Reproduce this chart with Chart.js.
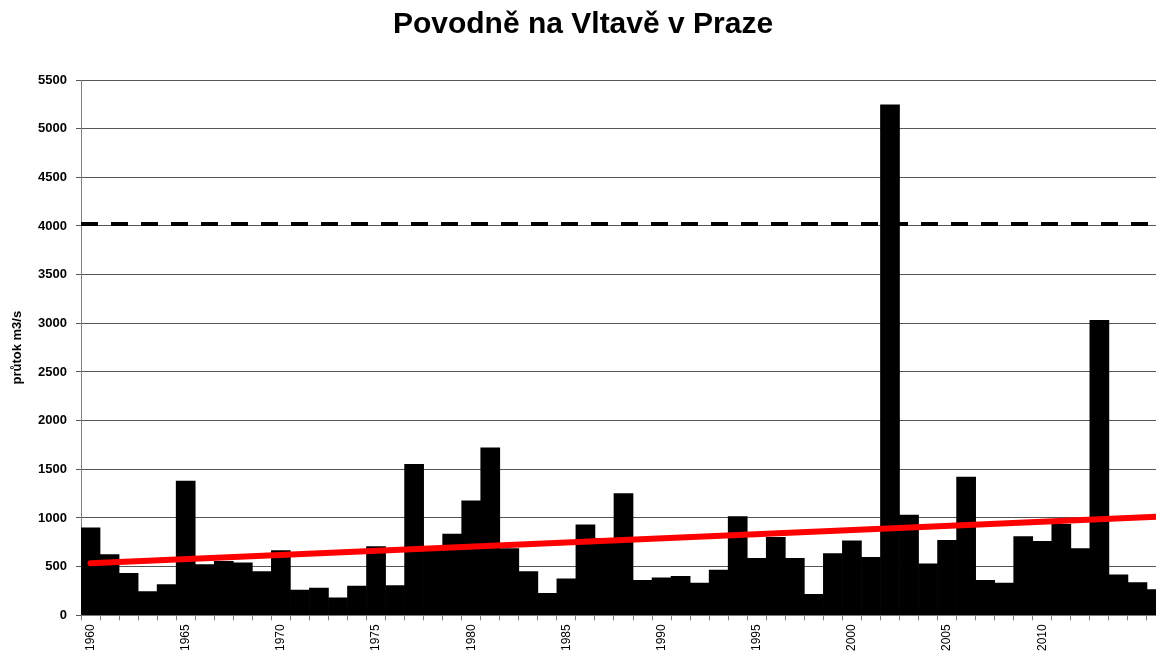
<!DOCTYPE html>
<html>
<head>
<meta charset="utf-8">
<title>Povodně na Vltavě v Praze</title>
<script src="https://cdn.jsdelivr.net/npm/chart.js@4.4.1/dist/chart.umd.min.js"></script>
<style>
  html, body { margin: 0; padding: 0; background: #fff; overflow: hidden; }
  #wrap { width: 1166px; height: 657px; }
</style>
</head>
<body>
<div id="wrap"><canvas id="floodChart" width="1166" height="657"></canvas></div>
<script>
// rok (the last one is cut off by the right edge in the original)
const years = ['1960','1961','1962','1963','1964','1965','1966','1967','1968','1969',
  '1970','1971','1972','1973','1974','1975','1976','1977','1978','1979',
  '1980','1981','1982','1983','1984','1985','1986','1987','1988','1989',
  '1990','1991','1992','1993','1994','1995','1996','1997','1998','1999',
  '2000','2001','2002','2003','2004','2005','2006','2007','2008','2009',
  '2010','2011','2012','2013','2014','2015','2016'];

// max. roční průtok m3/s
const flows = [900, 625, 430, 245, 315, 1380, 520, 555, 540, 450,
  665, 260, 280, 180, 300, 705, 305, 1550, 690, 835,
  1175, 1720, 685, 450, 225, 375, 930, 790, 1250, 360,
  385, 400, 330, 465, 1015, 585, 800, 585, 215, 635,
  765, 595, 5245, 1030, 530, 770, 1420, 360, 330, 810,
  760, 935, 685, 3030, 415, 335, 265];

const xTickLabels = ['1960','1965','1970','1975','1980','1985','1990','1995','2000','2005','2010'];
const yTicks = [0, 500, 1000, 1500, 2000, 2500, 3000, 3500, 4000, 4500, 5000, 5500];

// trend (start / end) and the dashed limit
const trendStart = 535;
const trendEnd = 1012;
const limitFlow = 4020;

const fontFamily = '"Liberation Sans", Arial, sans-serif';

document.addEventListener('DOMContentLoaded', function() {
  const ctx = document.getElementById('floodChart').getContext('2d');

  new Chart(ctx, {
    type: 'bar',
    data: {
      labels: years,
      datasets: [
        {
          type: 'line',
          label: 'trend',
          data: [{ x: years[0], y: trendStart }, { x: years[years.length - 1], y: trendEnd }],
          borderColor: '#ff0000',
          borderWidth: 6,
          borderCapStyle: 'round',
          pointRadius: 0,
          order: 0
        },
        {
          type: 'line',
          label: 'limit',
          xAxisID: 'xLimit',
          data: [{ x: 0, y: limitFlow }, { x: 1, y: limitFlow }],
          borderColor: '#000',
          borderWidth: 4,
          borderDash: [17, 13],
          pointRadius: 0,
          order: 1
        },
        {
          label: 'průtok',
          data: flows,
          backgroundColor: '#000',
          borderWidth: 0,
          grouped: false,
          barPercentage: 1,
          categoryPercentage: 1,
          order: 2
        }
      ]
    },
    options: {
      responsive: false,
      animation: false,
      layout: { padding: { left: 0, right: 0, top: 0, bottom: 2 } },
      plugins: {
        legend: { display: false },
        tooltip: { enabled: false },
        title: {
          display: true,
          text: 'Povodně na Vltavě v Praze',
          color: '#000',
          font: { family: fontFamily, size: 30, weight: 'bold' },
          padding: { top: 7, bottom: 37 }
        }
      },
      scales: {
        x: {
          type: 'category',
          offset: true,
          afterFit: function(scale) { scale.paddingRight = 0; },
          grid: {
            offset: true,
            drawOnChartArea: false,
            drawTicks: true,
            tickLength: 5,
            color: '#808080'
          },
          border: { color: '#808080' },
          ticks: {
            autoSkip: false,
            minRotation: 90,
            maxRotation: 90,
            padding: 4,
            color: '#000',
            font: { family: fontFamily, size: 12 },
            callback: function(value, index) {
              return xTickLabels.includes(years[index]) ? years[index] : '';
            }
          }
        },
        xLimit: {
          type: 'linear',
          display: false,
          offset: false,
          min: 0,
          max: 1
        },
        y: {
          min: 0,
          max: 5500,
          afterFit: function(scale) { scale.width = 81; },
          afterBuildTicks: function(scale) {
            scale.ticks = yTicks.map(v => ({ value: v }));
          },
          grid: {
            color: '#555',
            drawTicks: true,
            tickLength: 5
          },
          border: { color: '#808080' },
          ticks: {
            padding: 9,
            color: '#000',
            font: { family: fontFamily, size: 13, weight: 'bold' },
            callback: function(value) { return String(value); }
          },
          title: {
            display: true,
            text: 'průtok m3/s',
            color: '#000',
            font: { family: fontFamily, size: 13, weight: 'bold' },
            padding: { top: 10, bottom: 0 }
          }
        }
      }
    }
  });
});
</script>
</body>
</html>
